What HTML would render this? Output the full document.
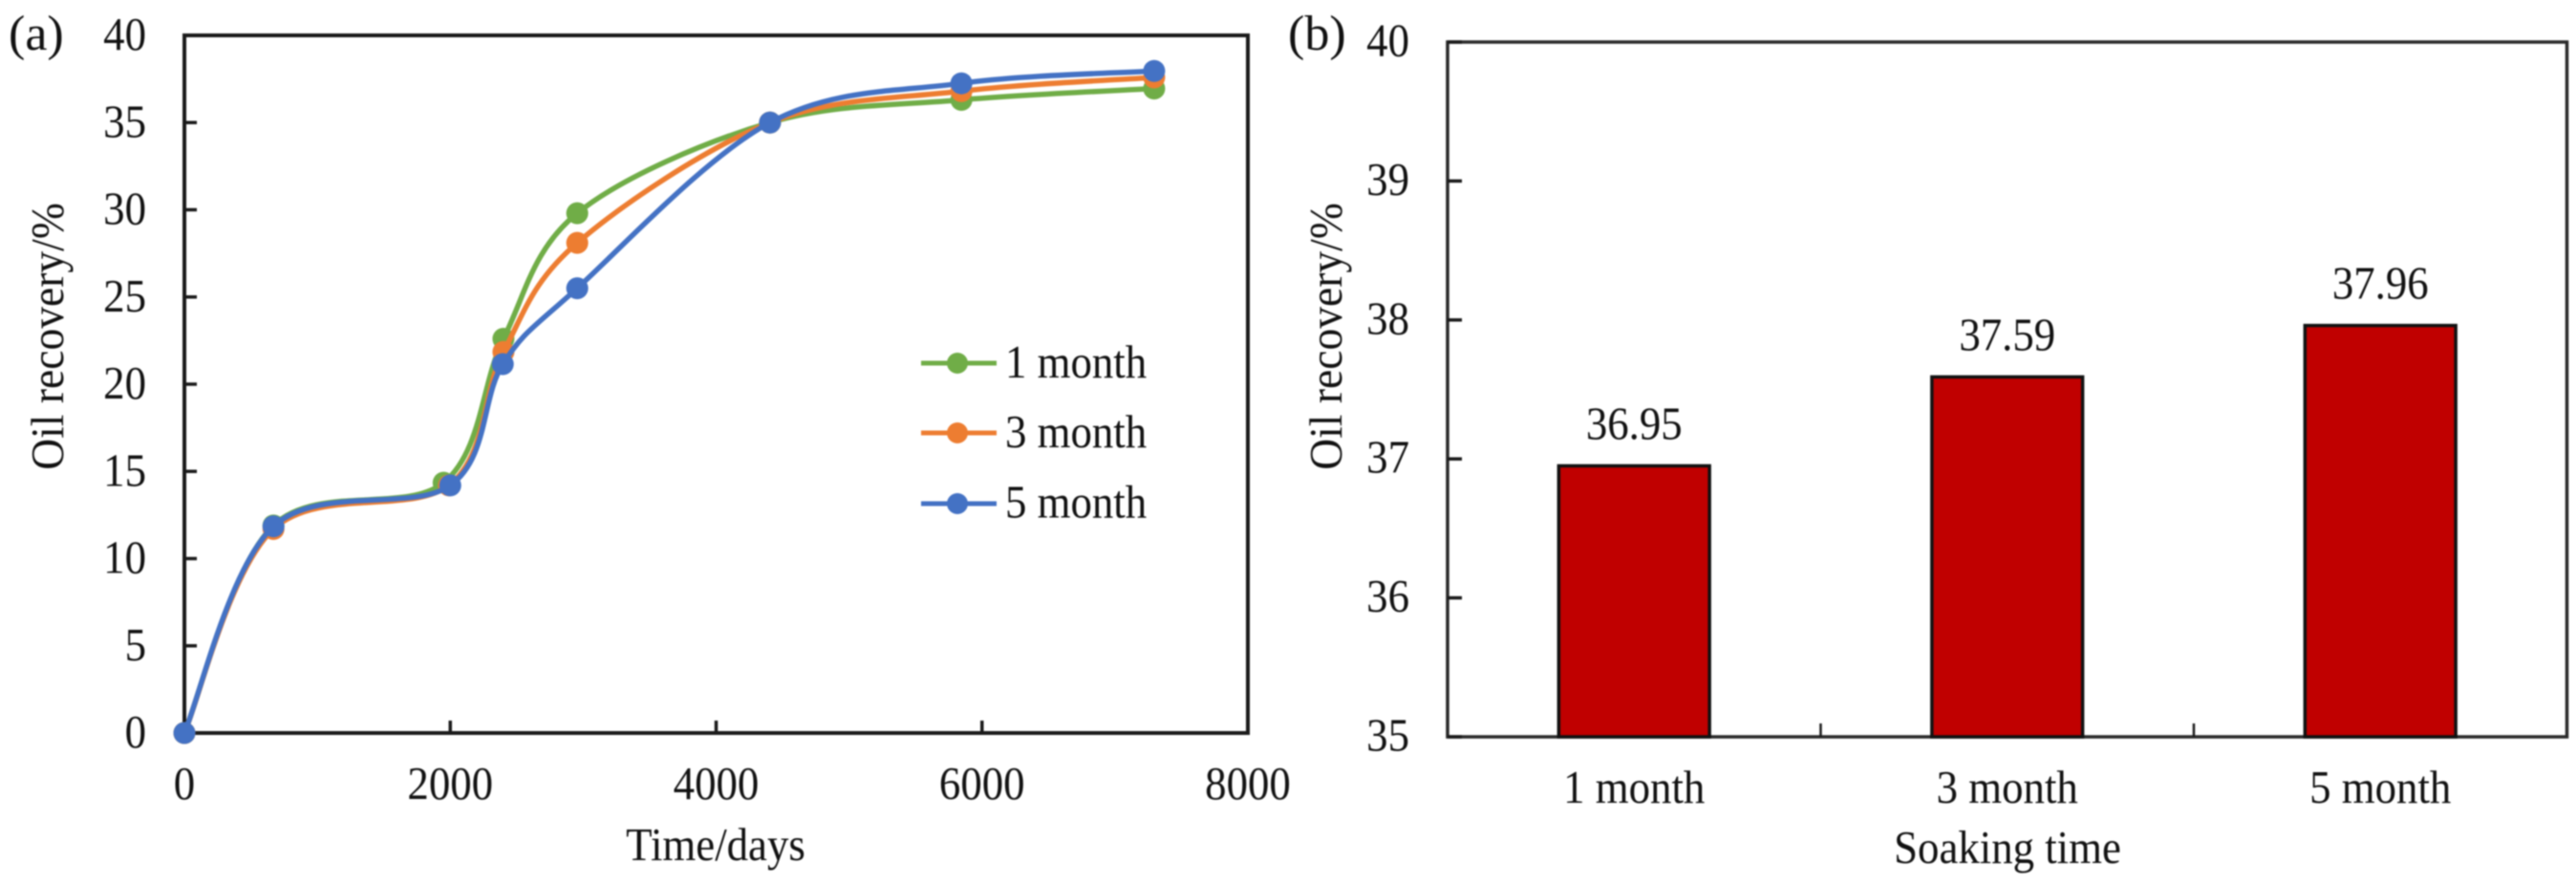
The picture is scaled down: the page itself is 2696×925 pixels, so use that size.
<!DOCTYPE html>
<html lang="en">
<head>
<meta charset="utf-8">
<title>Oil recovery vs time and soaking time</title>
<style>
html,body{margin:0;padding:0;background:#fff;width:2696px;height:925px;overflow:hidden}
svg{display:block;filter:blur(0.7px)}
text{font-family:"Liberation Serif","Times New Roman",serif;font-size:49px;fill:#111}
</style>
</head>
<body>
<svg id="figure" xmlns="http://www.w3.org/2000/svg" width="2696" height="925" viewBox="0 0 2696 925">
  <rect x="0" y="0" width="2696" height="925" fill="#fff"/>
  <g id="panel-a"></g>
  <g id="panel-b"></g>

  <text x="9" y="52" style="font-size:52px">(a)</text>
  <text x="1348" y="52" style="font-size:52px">(b)</text>

  <text text-anchor="middle" transform="translate(66,352) rotate(-90) scale(0.93,1)">Oil recovery/%</text>
  <text text-anchor="middle" transform="translate(749,900) scale(0.915,1)">Time/days</text>
  <text text-anchor="middle" transform="translate(1404,352) rotate(-90) scale(0.93,1)">Oil recovery/%</text>
  <text text-anchor="middle" transform="translate(2101,903) scale(0.915,1)">Soaking time</text>

  <g id="legend">
    <g>
      <line x1="964" y1="380" x2="1043" y2="380" stroke="#70AD47" stroke-width="5"/>
      <circle cx="1002" cy="380" r="11" fill="#70AD47"/>
      <text x="1052" y="395" transform="translate(1052,0) scale(0.915,1) translate(-1052,0)">1 month</text>
    </g>
    <g>
      <line x1="964" y1="453" x2="1043" y2="453" stroke="#ED7D31" stroke-width="5"/>
      <circle cx="1002" cy="453" r="11" fill="#ED7D31"/>
      <text x="1052" y="468" transform="translate(1052,0) scale(0.915,1) translate(-1052,0)">3 month</text>
    </g>
    <g>
      <line x1="964" y1="527" x2="1043" y2="527" stroke="#4472C4" stroke-width="5"/>
      <circle cx="1002" cy="527" r="11" fill="#4472C4"/>
      <text x="1052" y="541.5" transform="translate(1052,0) scale(0.915,1) translate(-1052,0)">5 month</text>
    </g>
  </g>
</svg>
<script>
/* Panel (a) data */
const aXTicks = [0, 2000, 4000, 6000, 8000];
const aYTicks = [0, 5, 10, 15, 20, 25, 30, 35, 40];
const timeGreen = [0, 670, 1950, 2400, 2955, 4405, 5845, 7295];
const timeOrange = [0, 670, 1990, 2400, 2955, 4405, 5845, 7295];
const timeBlue = [0, 670, 2000, 2395, 2955, 4405, 5845, 7295];
const recoveryGreen = [0, 11.9, 14.35, 22.6, 29.8, 35.0, 36.3, 36.95];
const recoveryOrange = [0, 11.7, 14.2, 21.85, 28.1, 35.0, 36.8, 37.59];
const recoveryBlue = [0, 11.85, 14.2, 21.15, 25.5, 35.0, 37.25, 37.96];

/* Panel (b) data */
const bCategories = ['1 month', '3 month', '5 month'];
const bValues = [36.95, 37.59, 37.96];
const bLabels = ['36.95', '37.59', '37.96'];
const bYTicks = [35, 36, 37, 38, 39, 40];

const NS = 'http://www.w3.org/2000/svg';
const TEXT_SQUEEZE = 0.915;

function make(tag, parent, attrs) {
  const el = document.createElementNS(NS, tag);
  for (const k in attrs) el.setAttribute(k, attrs[k]);
  parent.appendChild(el);
  return el;
}
function label(parent, str, x, y, anchor) {
  const el = make('text', parent, {
    'text-anchor': anchor,
    transform: 'translate(' + x + ',' + y + ') scale(' + TEXT_SQUEEZE + ',1)'
  });
  el.textContent = str;
  return el;
}

/* ---------- Panel (a) ---------- */
const panelA = document.getElementById('panel-a');
const aLeft = 193, aRight = 1306, aTop = 37, aBottom = 767;
const ax = v => aLeft + (v / 8000) * (aRight - aLeft);
const ay = v => aBottom - (v / 40) * (aBottom - aTop);

const aFrame = make('rect', panelA, {
  x: aLeft, y: aTop, width: aRight - aLeft, height: aBottom - aTop,
  fill: 'none', stroke: '#1a1a1a', 'stroke-width': 4
});



aYTicks.forEach(t => {
  const tick = make('line', panelA, {
    x1: aLeft, x2: aLeft + 13, y1: ay(t), y2: ay(t), stroke: '#1a1a1a', 'stroke-width': 3.5
  });
  
  
  const txt = label(panelA, String(t), 153, ay(t) + 15, 'end');
  
  
});
aXTicks.forEach(t => {
  const tick = make('line', panelA, {
    x1: ax(t), x2: ax(t), y1: aBottom, y2: aBottom - 13, stroke: '#1a1a1a', 'stroke-width': 3.5
  });
  
  
  const txt = label(panelA, String(t), ax(t), 836, 'middle');
  
  
});

function smoothPath(xs, ys) {
  const pts = xs.map((x, i) => [ax(x), ay(ys[i])]);
  let d = 'M' + pts[0][0] + ' ' + pts[0][1];
  for (let i = 0; i < pts.length - 1; i++) {
    const p0 = pts[Math.max(i - 1, 0)];
    const p1 = pts[i];
    const p2 = pts[i + 1];
    const p3 = pts[Math.min(i + 2, pts.length - 1)];
    const c1x = p1[0] + (p2[0] - p0[0]) / 6;
    const c1y = p1[1] + (p2[1] - p0[1]) / 6;
    const c2x = p2[0] - (p3[0] - p1[0]) / 6;
    const c2y = p2[1] - (p3[1] - p1[1]) / 6;
    d += ' C' + c1x + ' ' + c1y + ' ' + c2x + ' ' + c2y + ' ' + p2[0] + ' ' + p2[1];
  }
  return d;
}
function drawSeries(xs, ys, color, slug) {
  const line = make('path', panelA, {
    d: smoothPath(xs, ys), fill: 'none', stroke: color, 'stroke-width': 5.5, 'stroke-linejoin': 'round'
  });
  
  
  xs.forEach((x, i) => {
    const dot = make('circle', panelA, { cx: ax(x), cy: ay(ys[i]), r: 11.5, fill: color });
    
    
  });
}
drawSeries(timeGreen, recoveryGreen, '#70AD47', '1-month');
drawSeries(timeOrange, recoveryOrange, '#ED7D31', '3-month');
drawSeries(timeBlue, recoveryBlue, '#4472C4', '5-month');

/* ---------- Panel (b) ---------- */
const panelB = document.getElementById('panel-b');
const bLeft = 1515, bRight = 2686.5, bTop = 44, bBottom = 771;
const by = v => bBottom - ((v - 35) / 5) * (bBottom - bTop);
const band = (bRight - bLeft) / bCategories.length;
const bandCenter = i => bLeft + band * (i + 0.5);
const barWidth = band * 0.404;

const bFrame = make('rect', panelB, {
  x: bLeft, y: bTop, width: bRight - bLeft, height: bBottom - bTop,
  fill: 'none', stroke: '#2a2a2a', 'stroke-width': 3.5
});



bYTicks.forEach(t => {
  const tick = make('line', panelB, {
    x1: bLeft, x2: bLeft + 15, y1: by(t), y2: by(t), stroke: '#1a1a1a', 'stroke-width': 3.5
  });
  
  
  const txt = label(panelB, String(t), 1475, by(t) + 14.5, 'end');
  
  
});

bCategories.forEach((c, i) => {
  if (i > 0) {
    const tick = make('line', panelB, {
      x1: bLeft + band * i, x2: bLeft + band * i, y1: bBottom, y2: bBottom - 14, stroke: '#1a1a1a', 'stroke-width': 2.5
    });
    
    
  }
  const bar = make('rect', panelB, {
    x: bandCenter(i) - barWidth / 2, y: by(bValues[i]),
    width: barWidth, height: bBottom - by(bValues[i]),
    fill: '#C00000', stroke: '#111', 'stroke-width': 3.5
  });
  
  
  const val = label(panelB, bLabels[i], bandCenter(i), by(bValues[i]) - 28, 'middle');
  
  
  const cat = label(panelB, c, bandCenter(i), 840, 'middle');
  
  
});
</script>
</body>
</html>
